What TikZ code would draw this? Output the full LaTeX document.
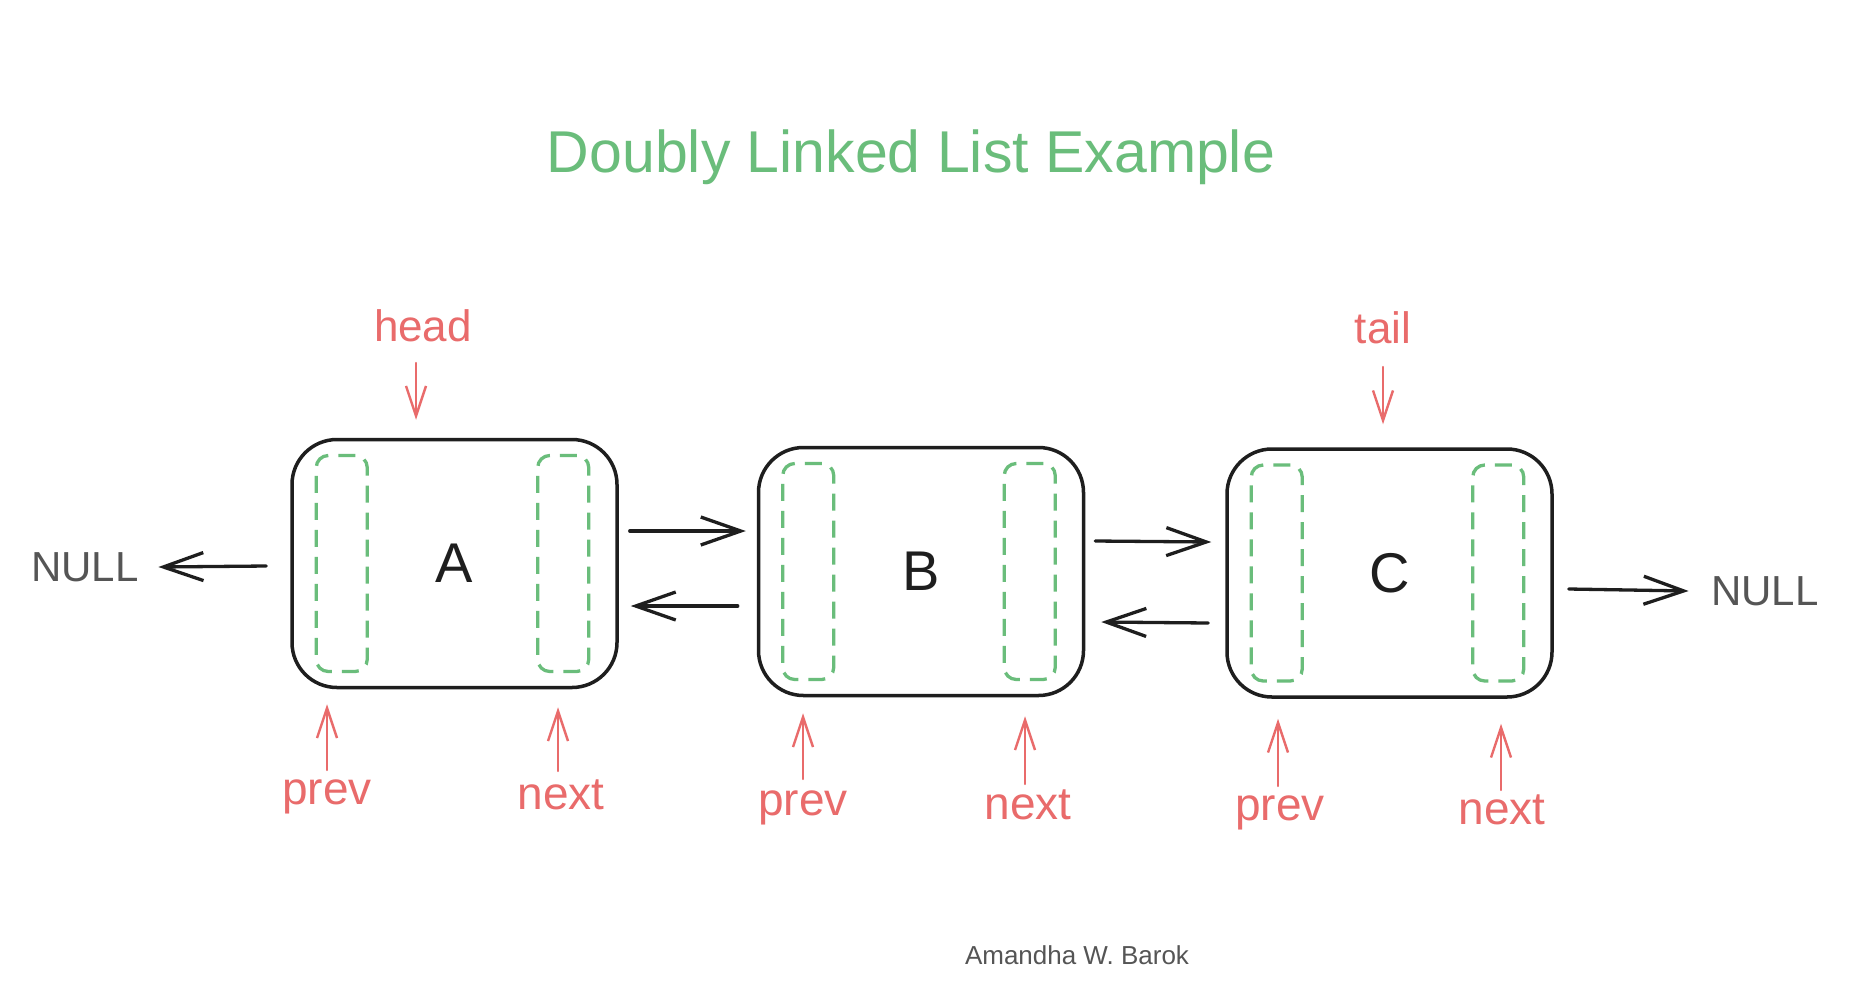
\documentclass[tikz,border=0pt]{standalone}
\usepackage{fontspec}
\setmainfont{Liberation Sans}
\usetikzlibrary{arrows.meta}
\definecolor{ink}{HTML}{1E1E1E}
\definecolor{grn}{HTML}{6ABD7B}
\definecolor{rd}{HTML}{E96B6B}
\definecolor{gry}{HTML}{555555}
\begin{document}
\begin{tikzpicture}[x=1pt,y=-1pt,
  box/.style={draw=ink, line width=3.5pt, rounded corners=45pt, minimum width=325pt, minimum height=248pt, inner sep=0pt, font=\fontsize{56}{60}\selectfont, text=ink},
  slot/.style={draw=grn, line width=3.3pt, dash pattern=on 17pt off 10pt, rounded corners=12pt, minimum width=51pt, minimum height=216pt, inner sep=0pt},
  blk/.style={draw=ink, line width=3.3pt, line cap=round, -{Straight Barb[length=40pt,width=28pt]}},
  rarr/.style={draw=rd, line width=2.4pt, line cap=round, -{Straight Barb[length=30pt,width=20pt]}},
  lbl/.style={text=rd, inner sep=0pt, font=\fontsize{46}{50}\selectfont},
  ptr/.style={text=rd, inner sep=0pt, font=\fontsize{44}{48}\selectfont},
  nul/.style={text=gry, inner sep=0pt, font=\fontsize{42}{46}\selectfont}]
\fill[white] (0,0) rectangle (1852,1002);
\useasboundingbox (0,0) rectangle (1852,1002);

% title and author
\node[text=grn, inner sep=0pt, font=\fontsize{59}{66}\selectfont] (title) at (911,157) {Doubly Linked List Example};
\node[text=gry, inner sep=0pt, font=\fontsize{26}{30}\selectfont] (author) at (1077,955) {Amandha W. Barok};

% boxes
\node[box] (A) at (454.5,563.5) {A};
\node[box] (B) at (921,571.5) {B};
\node[box] (C) at (1389.5,573) {C};

% slots
\node[slot] (Ap) at ([xshift=51.5pt]A.west) {};
\node[slot] (An) at ([xshift=-55.5pt]A.east) {};
\node[slot] (Bp) at ([xshift=51.5pt]B.west) {};
\node[slot] (Bn) at ([xshift=-55.5pt]B.east) {};
\node[slot] (Cp) at ([xshift=51.5pt]C.west) {};
\node[slot] (Cn) at ([xshift=-55.5pt]C.east) {};

% NULL labels
\node[nul] (nullL) at (85,567) {NULL};
\node[nul] (nullR) at (1765,591) {NULL};

% pointer labels
\node[ptr] (head) at (423,326) {head};
\node[ptr] (tail) at (1383,328) {tail};

\node[lbl] (pA) at (327,797) {prev};
\node[lbl] (nA) at (561,795) {next};
\node[lbl] (pB) at (803,808) {prev};
\node[lbl] (nB) at (1028,805) {next};
\node[lbl] (pC) at (1280,813) {prev};
\node[lbl] (nC) at (1502,810) {next};

% links between boxes
\draw[blk] ([shift={(11,-32.5)}]A.east) -- ([shift={(-11,-40.5)}]B.west);
\draw[blk] ([shift={(-19,34.5)}]B.west) -- ([shift={(12,42.5)}]A.east);
\draw[blk] ([shift={(10,-30.5)}]B.east) -- ([shift={(-14,-31)}]C.west);
\draw[blk] ([shift={(-17,50)}]C.west) -- ([shift={(16,50.5)}]B.east);

% NULL links
\draw[blk] ([shift={(-24,2.5)}]A.west) -- ([xshift=19.5pt]nullL.east);
\draw[blk] ([shift={(15,16)}]C.east) -- ([xshift=-22.5pt]nullR.west);

% head / tail
\draw[rarr] ([shift={(-7,37)}]head.center) -- ([shift={(-38.5,-18)}]A.north);
\draw[rarr] ([shift={(0,39)}]tail.center) -- ([shift={(-6.5,-23)}]C.north);

% prev / next pointers
\draw[rarr] ([shift={(0,-27)}]pA.center) -- ([shift={(-127.5,15)}]A.south);
\draw[rarr] ([shift={(-3,-24)}]nA.center) -- ([shift={(103.5,18)}]A.south);
\draw[rarr] ([shift={(0,-29)}]pB.center) -- ([shift={(-118,16)}]B.south);
\draw[rarr] ([shift={(-3,-21)}]nB.center) -- ([shift={(104,19)}]B.south);
\draw[rarr] ([shift={(-2,-27)}]pC.center) -- ([shift={(-111.5,20)}]C.south);
\draw[rarr] ([shift={(-1,-20)}]nC.center) -- ([shift={(111.5,25)}]C.south);
\end{tikzpicture}
\end{document}
